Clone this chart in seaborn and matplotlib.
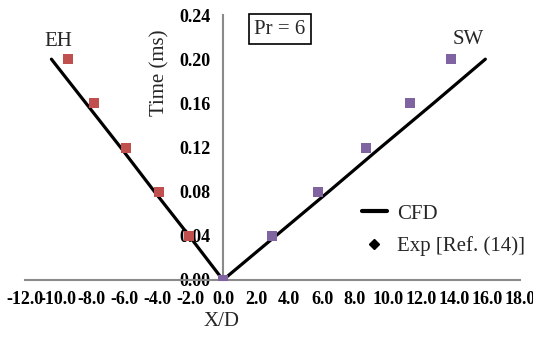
import matplotlib
matplotlib.use("Agg")
import matplotlib.pyplot as plt
from matplotlib.lines import Line2D
import seaborn as sns
import pandas as pd

# Front positions X/D versus time (ms) for the two interfaces
time_ms = [0.00, 0.04, 0.08, 0.12, 0.16, 0.20]
cfd_eh = [0.0, -2.05, -4.15, -6.2, -8.3, -10.4]
cfd_sw = [0.0, 3.2, 6.4, 9.55, 12.75, 15.9]
exp_eh = [0.0, -2.04, -3.9, -5.88, -7.81, -9.39]
exp_sw = [0.0, 2.96, 5.77, 8.65, 11.34, 13.8]

x_ticks = [-12, -10, -8, -6, -4, -2, 0, 2, 4, 6, 8, 10, 12, 14, 16, 18]
y_ticks = [0.00, 0.04, 0.08, 0.12, 0.16, 0.20, 0.24]

sns.set_style("white")
plt.rcParams["font.family"] = ["Liberation Serif", "DejaVu Serif"]

W, H = 533, 338
fig = plt.figure(figsize=(W / 100, H / 100), dpi=100)
ax = fig.add_axes([25 / W, 1 - 280 / H, (520 - 25) / W, (280 - 15) / H])

line_kw = dict(color="black", linewidth=2.3, sort=False, estimator=None, ax=ax, zorder=3)
sns.lineplot(x=cfd_eh, y=time_ms, **line_kw)
sns.lineplot(x=cfd_sw, y=time_ms, **line_kw)

sq_kw = dict(marker="s", s=55, linewidth=0, ax=ax, zorder=4)
sns.scatterplot(x=exp_eh, y=time_ms, color="#C0504D", **sq_kw)
sns.scatterplot(x=exp_sw, y=time_ms, color="#8064A2", **sq_kw)

ax.set_xlim(-12, 18)
ax.set_ylim(0, 0.24)
ax.set_xticks(x_ticks)
ax.set_yticks(y_ticks)
ax.set_xticklabels([f"{v:.1f}" for v in x_ticks])
ax.set_yticklabels([f"{v:.2f}" for v in y_ticks])

spine_col = "#8a8a8a"
for s in ("top", "right"):
    ax.spines[s].set_visible(False)
ax.spines["left"].set_position(("data", 0))
for s in ("left", "bottom"):
    ax.spines[s].set_color(spine_col)
    ax.spines[s].set_linewidth(1.5)
    ax.spines[s].set_zorder(1)

ax.tick_params(axis="both", direction="in", length=5, width=1.5, color=spine_col,
               labelsize=13, labelcolor="black")
ax.tick_params(axis="y", pad=9)
ax.tick_params(axis="x", pad=8)
for lab in ax.get_xticklabels() + ax.get_yticklabels():
    lab.set_fontweight("bold")

ax.set_xlabel("")
ax.set_ylabel("")
fig.text(222 / W, 1 - 322 / H, "X/D", ha="center", va="center", fontsize=15)
fig.text(160 / W, 1 - 73 / H, "Time (ms)", ha="center", va="center",
         rotation=90, fontsize=15)

fig.text(58 / W, 1 - 42 / H, "EH", ha="center", va="center", fontsize=15)
fig.text(468 / W, 1 - 40 / H, "SW", ha="center", va="center", fontsize=15)
fig.text(280 / W, 1 - 29 / H, "Pr = 6", ha="center", va="center", fontsize=15,
         bbox=dict(boxstyle="square,pad=0.25", facecolor="white",
                   edgecolor="black", linewidth=1.2))

handles = [Line2D([], [], color="black", linewidth=3),
           Line2D([], [], color="black", marker="D", markersize=5, linestyle="none")]
fig.legend(handles, ["CFD", "Exp [Ref. (14)]"], loc="upper left",
           bbox_to_anchor=(362 / W, 1 - 204 / H), bbox_transform=fig.transFigure,
           frameon=False, fontsize=15, handlelength=1.2, handletextpad=0.5,
           labelspacing=0.6, borderpad=0, borderaxespad=0)

fig.savefig("out.png", dpi=100, facecolor="white")
